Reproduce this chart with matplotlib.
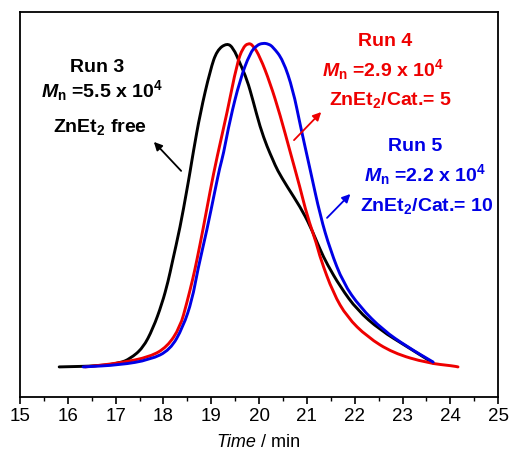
import matplotlib
matplotlib.use("Agg")
import matplotlib.pyplot as plt
from matplotlib.ticker import MultipleLocator
from matplotlib.path import Path
from matplotlib.patches import PathPatch

plt.rcParams['font.family'] = ['Liberation Sans', 'DejaVu Sans']
plt.rcParams['mathtext.fontset'] = 'custom'
plt.rcParams['mathtext.rm'] = 'Liberation Sans:bold'
plt.rcParams['mathtext.bf'] = 'Liberation Sans:bold'
plt.rcParams['mathtext.it'] = 'Liberation Sans:italic:bold'

# Run 3 (ZnEt2 free), black
t_run3 = [15.82, 16.67, 17.09, 17.30, 17.57, 17.78, 17.97, 18.10, 18.18, 18.35, 18.49,
          18.56, 18.62, 18.77, 18.98, 19.12, 19.33, 19.46, 19.60, 19.75, 19.87, 20.02,
          20.17, 20.29, 20.38, 20.59, 20.86, 21.07, 21.28, 21.42,
          21.70, 22.05, 22.53, 23.10, 23.64]
y_run3 = [0.0, 0.003, 0.012, 0.025, 0.058, 0.118, 0.195, 0.265, 0.320, 0.432, 0.546,
          0.605, 0.660, 0.784, 0.917, 0.978, 1.0, 0.985, 0.938, 0.886, 0.824, 0.741,
          0.679, 0.639, 0.608, 0.556, 0.494, 0.435, 0.361, 0.318,
          0.247, 0.176, 0.114, 0.062, 0.012]

# Run 4 (ZnEt2/Cat. = 5), red
t_run4 = [16.36, 17.09, 17.72, 18.08, 18.35, 18.49, 18.62, 18.70, 18.83, 18.98, 19.12,
          19.33, 19.54, 19.66, 19.77, 19.87, 20.02, 20.23, 20.44, 20.65, 20.86, 21.00, 21.21,
          21.28, 21.55, 21.84, 22.26, 22.80, 23.52, 24.06, 24.16]
y_run4 = [0.0, 0.012, 0.031, 0.062, 0.123, 0.198, 0.275, 0.330, 0.426, 0.546, 0.648,
          0.784, 0.938, 0.985, 1.0, 0.994, 0.957, 0.877, 0.778, 0.664, 0.552, 0.469, 0.377,
          0.336, 0.228, 0.154, 0.093, 0.043, 0.012, 0.003, 0.0]

# Run 5 (ZnEt2/Cat. = 10), blue
t_run5 = [16.32, 17.09, 17.72, 18.14, 18.41, 18.60, 18.72, 18.91, 19.08, 19.18, 19.25,
          19.39, 19.60, 19.81, 19.95, 20.08, 20.20, 20.29, 20.50, 20.71, 20.86, 21.07, 21.28, 21.49,
          21.76, 22.11, 22.59, 23.10, 23.64]
y_run5 = [0.0, 0.006, 0.022, 0.052, 0.123, 0.207, 0.302, 0.423, 0.546, 0.617, 0.654,
          0.762, 0.886, 0.969, 0.993, 1.0, 0.997, 0.988, 0.948, 0.855, 0.747, 0.608, 0.466, 0.361,
          0.259, 0.185, 0.114, 0.062, 0.015]

RED = '#ee0000'
BLUE = '#0000e6'


def smooth_path(xs, ys):
    # quadratic B-spline style path through the read points (drawing style only)
    pts = list(zip(xs, ys))
    verts = [pts[0]]
    codes = [Path.MOVETO]
    mid = lambda a, b: ((a[0] + b[0]) / 2, (a[1] + b[1]) / 2)
    verts.append(mid(pts[0], pts[1]))
    codes.append(Path.LINETO)
    for i in range(1, len(pts) - 1):
        verts += [pts[i], mid(pts[i], pts[i + 1])]
        codes += [Path.CURVE3, Path.CURVE3]
    verts.append(pts[-1])
    codes.append(Path.LINETO)
    return Path(verts, codes)


fig = plt.figure(figsize=(5.12, 4.59), dpi=100)
ax = fig.add_axes([0.039, 0.135, 0.934, 0.839])

for xs, ys, c in [(t_run3, y_run3, 'black'), (t_run4, y_run4, RED), (t_run5, y_run5, BLUE)]:
    ax.add_patch(PathPatch(smooth_path(xs, ys), fill=False, edgecolor=c, lw=2.1,
                           joinstyle='round', capstyle='round'))

ax.set_xlim(15, 25)
ax.set_ylim(-0.093, 1.096)
ax.xaxis.set_major_locator(MultipleLocator(1))
ax.xaxis.set_minor_locator(MultipleLocator(0.5))
ax.tick_params(axis='x', which='major', direction='out', length=5, width=1.2,
               labelsize=13.5, pad=3)
ax.tick_params(axis='x', which='minor', direction='out', length=3, width=1.0)
ax.set_yticks([])
for s in ax.spines.values():
    s.set_linewidth(1.3)
fig.text(0.5, 0.035, 'Time', fontsize=13, style='italic', ha='right', va='center')
fig.text(0.5, 0.035, ' / min', fontsize=13, ha='left', va='center')

fs = 14
# Run 3 labels
ax.text(16.61, 0.923, 'Run 3', color='black', fontsize=fs, weight='bold', ha='center', va='center')
ax.text(16.72, 0.852, r'$\mathit{M}_\mathrm{n}$ =5.5 x 10$^\mathrm{4}$', color='black', fontsize=fs,
        weight='bold', ha='center', va='center')
ax.text(16.67, 0.741, r'ZnEt$_\mathrm{2}$ free', color='black', fontsize=fs, weight='bold',
        ha='center', va='center')
ax.annotate('', xy=(17.76, 0.701), xytext=(18.41, 0.599),
            arrowprops=dict(arrowstyle='-|>', color='black', lw=1.3, mutation_scale=12))

# Run 4 labels
ax.text(22.64, 1.006, 'Run 4', color=RED, fontsize=fs, weight='bold', ha='center', va='center')
ax.text(22.59, 0.917, r'$\mathit{M}_\mathrm{n}$ =2.9 x 10$^\mathrm{4}$', color=RED, fontsize=fs,
        weight='bold', ha='center', va='center')
ax.text(22.74, 0.824, r'ZnEt$_\mathrm{2}$/Cat.= 5', color=RED, fontsize=fs, weight='bold',
        ha='center', va='center')
ax.annotate('', xy=(21.34, 0.793), xytext=(20.69, 0.694),
            arrowprops=dict(arrowstyle='-|>', color=RED, lw=1.3, mutation_scale=12))

# Run 5 labels
ax.text(23.26, 0.679, 'Run 5', color=BLUE, fontsize=fs, weight='bold', ha='center', va='center')
ax.text(23.47, 0.593, r'$\mathit{M}_\mathrm{n}$ =2.2 x 10$^\mathrm{4}$', color=BLUE, fontsize=fs,
        weight='bold', ha='center', va='center')
ax.text(23.51, 0.497, r'ZnEt$_\mathrm{2}$/Cat.= 10', color=BLUE, fontsize=fs, weight='bold',
        ha='center', va='center')
ax.annotate('', xy=(21.95, 0.540), xytext=(21.38, 0.454),
            arrowprops=dict(arrowstyle='-|>', color=BLUE, lw=1.3, mutation_scale=12))

fig.savefig('out.png', dpi=100, facecolor='white')
